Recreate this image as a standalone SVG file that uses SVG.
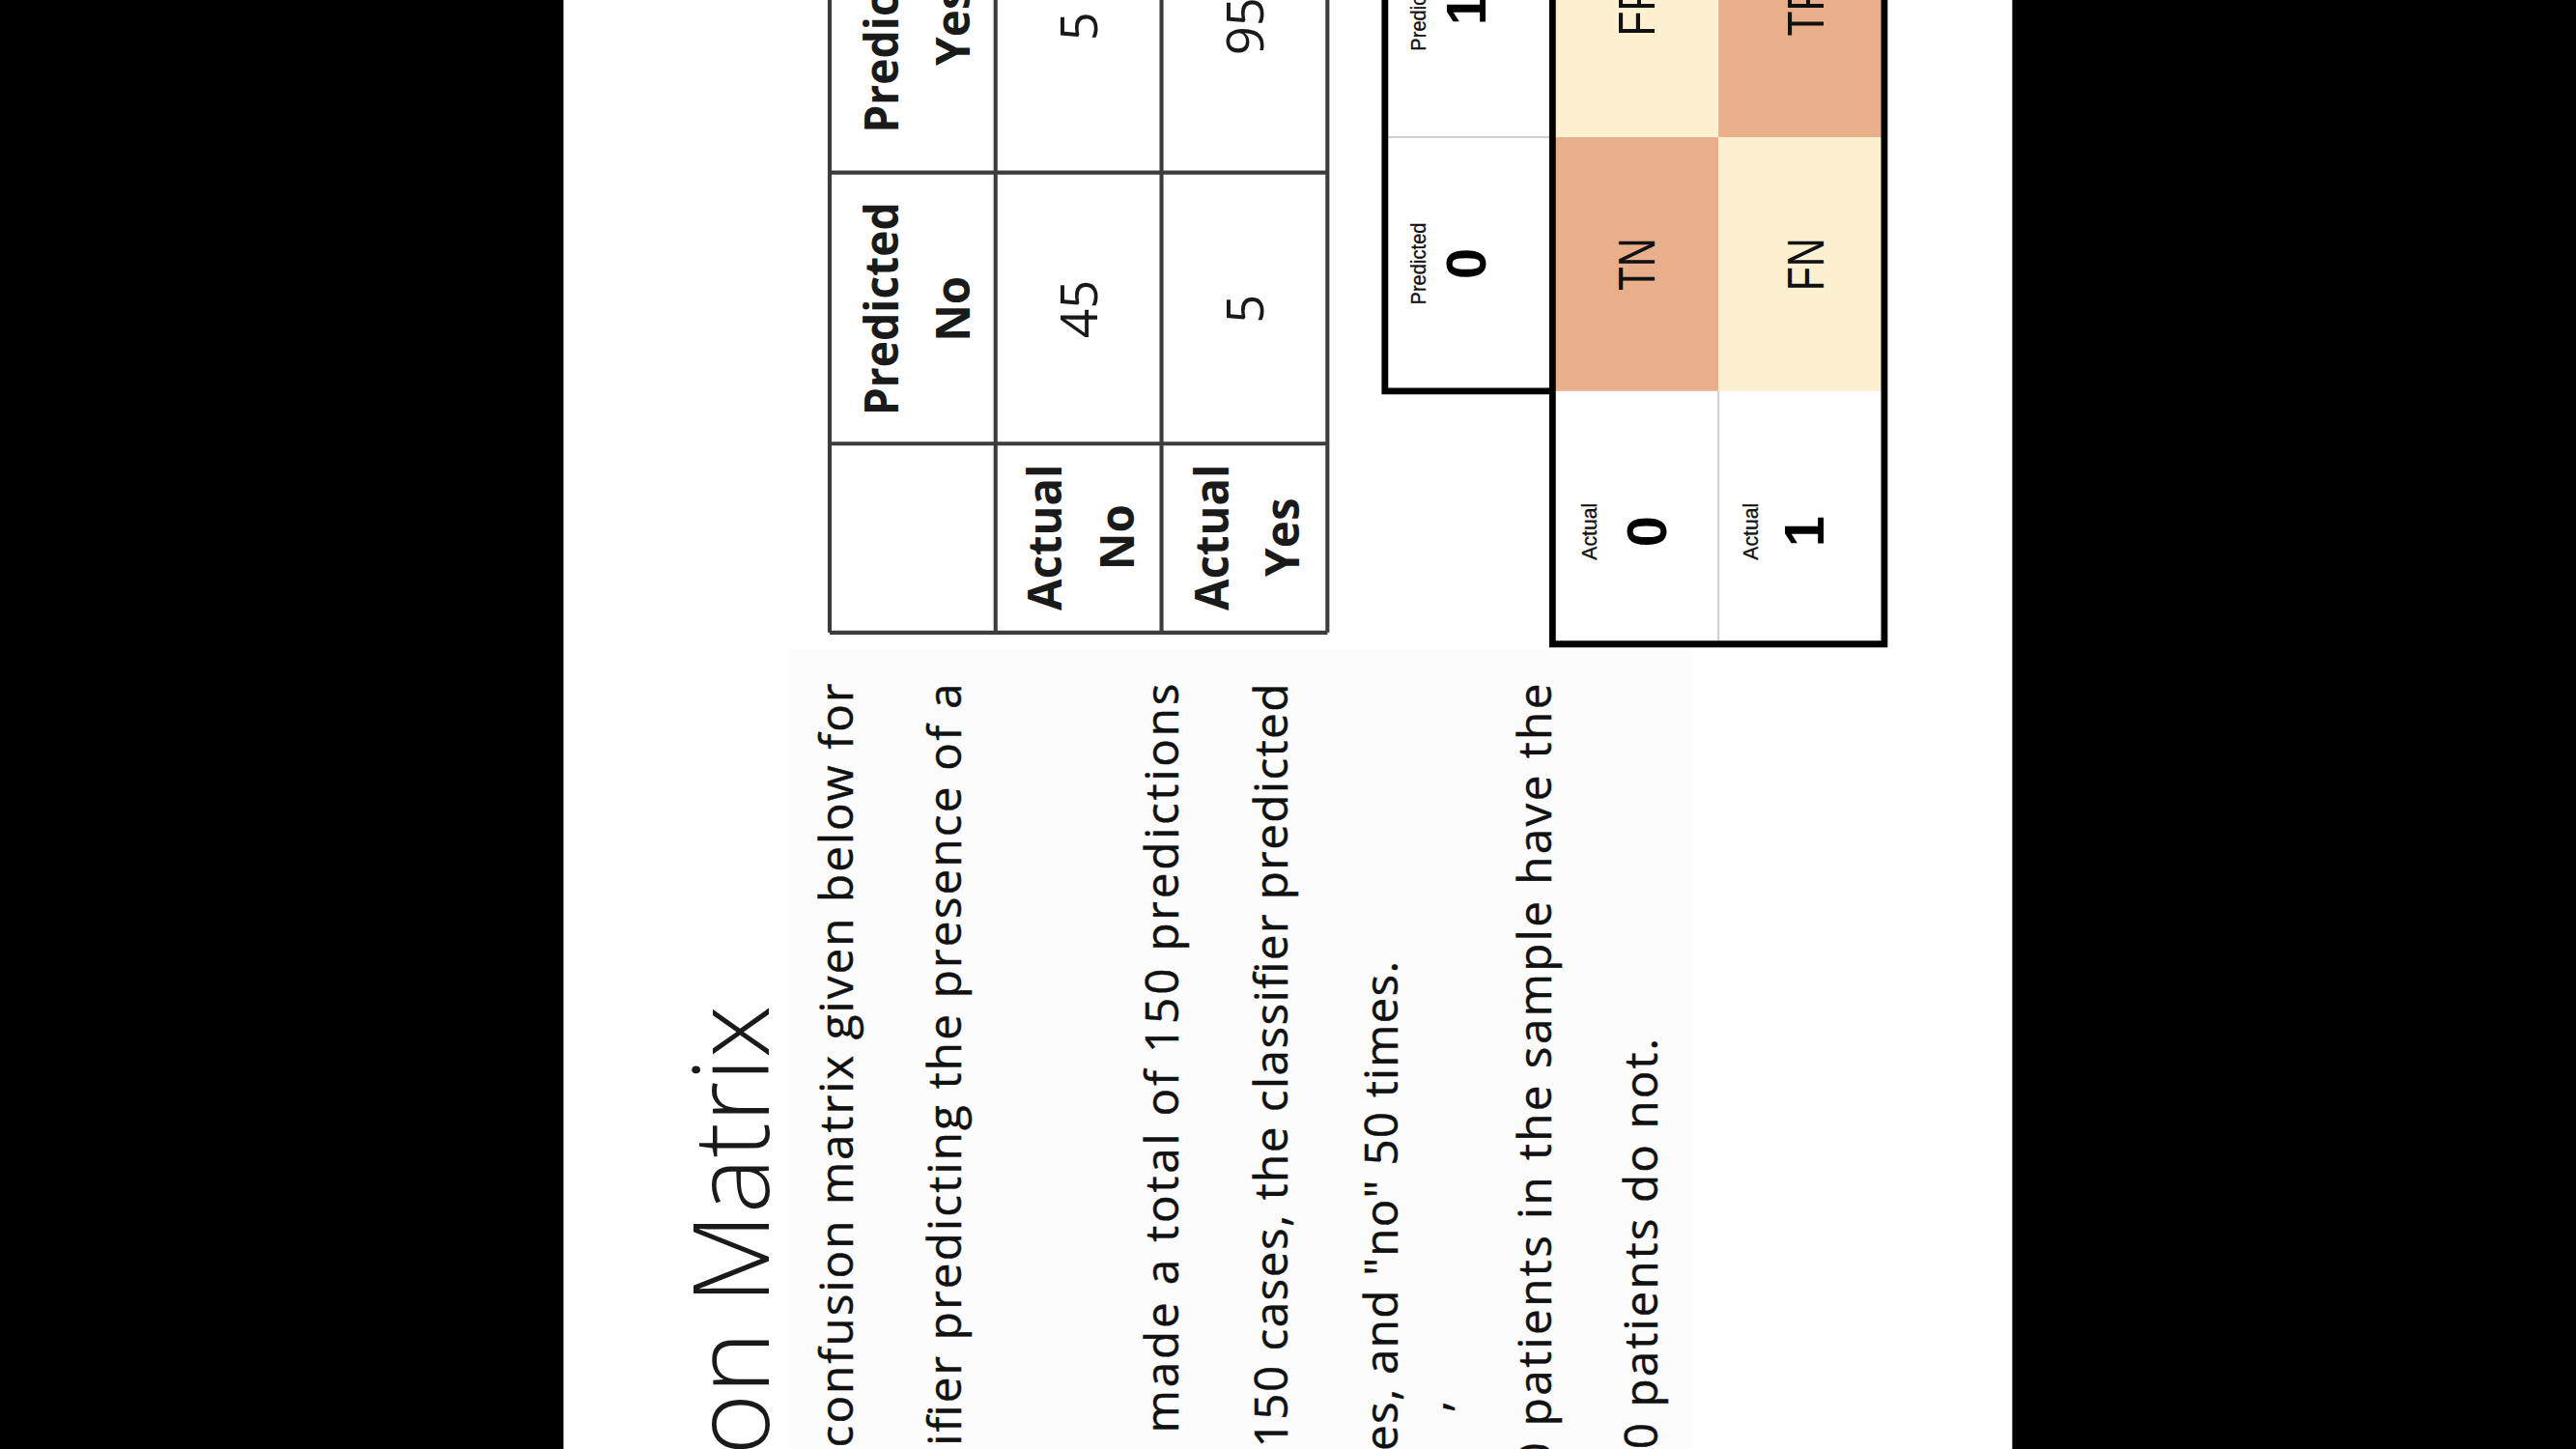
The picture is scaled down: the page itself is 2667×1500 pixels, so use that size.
<svg xmlns="http://www.w3.org/2000/svg" width="2667" height="1500" viewBox="0 0 2667 1500">
<style>
.title{font-family:"Open Sans","Liberation Sans",sans-serif;font-weight:300;font-size:64px;fill:#1a1a1a}
.body{font-family:"Open Sans","Liberation Sans",sans-serif;font-size:28px;fill:#111;text-anchor:end;stroke:#111;stroke-width:0.25}
.hb{font-family:"Open Sans","Liberation Sans",sans-serif;font-weight:700;font-size:28px;fill:#1a1a1a;text-anchor:middle}
.num{font-family:"Open Sans","Liberation Sans",sans-serif;font-size:31px;fill:#1a1a1a;text-anchor:middle}
.t1{stroke:#3c3c3c;stroke-width:2.4;fill:none}
.t2{stroke:#000;stroke-width:4;fill:none}
.thin{stroke:#cfcfcf;stroke-width:1.2}
.small{font-family:"Liberation Sans",Arial,sans-serif;font-size:12.5px;fill:#111;text-anchor:middle;stroke:#111;stroke-width:0.2}
.big{font-family:"Liberation Sans",Arial,sans-serif;font-weight:700;font-size:34px;fill:#000;text-anchor:middle}
.cell{font-family:"Liberation Sans",Arial,sans-serif;font-size:32px;fill:#111;text-anchor:middle}
</style>
<g transform="scale(1.70089)">
  <rect x="0" y="0" width="1568" height="882" fill="#000"/>
  <rect x="343" y="0" width="882" height="882" fill="#fff"/>
  <rect x="480" y="395" width="550" height="487" fill="#fcfcfc"/>

  <g id="title">
    <text class="title" text-anchor="end" transform="translate(468,612) rotate(-90)">on Matrix</text>
  </g>

  <g id="body-text">
    <text class="body" textLength="465" transform="translate(519,416) rotate(-90)">confusion matrix given below for</text>
    <text class="body" textLength="464" transform="translate(585,416) rotate(-90)">ifier predicting the presence of a</text>
    <text class="body" textLength="456" transform="translate(717,416) rotate(-90)">made a total of 150 predictions</text>
    <text class="body" textLength="465" transform="translate(784,416) rotate(-90)">150 cases, the classifier predicted</text>
    <text class="body" textLength="298" transform="translate(851,585) rotate(-90)">es, and "no" 50 times.</text>
    <text class="body" style="text-anchor:middle" transform="translate(882,856) rotate(-90)">,</text>
    <text class="body" textLength="478" transform="translate(944,416) rotate(-90)">0 patients in the sample have the</text>
    <text class="body" textLength="250" transform="translate(1009,632) rotate(-90)">0 patients do not.</text>
  </g>

  <g id="table-yes-no">
    <g id="table1-grid">
      <path class="t1" d="M505,-10 V385 M606,-10 V385 M707,-10 V385 M808,-10 V385 M505,385 H808 M505,270 H808 M505,105 H808"/>
    </g>
    <g id="t1-pred-no">
      <text class="hb" textLength="130" lengthAdjust="spacingAndGlyphs" transform="translate(547,188) rotate(-90)">Predicted</text>
      <text class="hb" transform="translate(590,188) rotate(-90)">No</text>
    </g>
    <g id="t1-pred-yes">
      <text class="hb" textLength="130" lengthAdjust="spacingAndGlyphs" transform="translate(547,16) rotate(-90)">Predicted</text>
      <text class="hb" transform="translate(590,16) rotate(-90)">Yes</text>
    </g>
    <g id="t1-act-no">
      <text class="hb" textLength="89" lengthAdjust="spacingAndGlyphs" transform="translate(646,327) rotate(-90)">Actual</text>
      <text class="hb" transform="translate(690,327) rotate(-90)">No</text>
    </g>
    <g id="t1-act-yes">
      <text class="hb" textLength="89" lengthAdjust="spacingAndGlyphs" transform="translate(748,327) rotate(-90)">Actual</text>
      <text class="hb" transform="translate(791,327) rotate(-90)">Yes</text>
    </g>
    <g id="t1-values">
      <text class="num" transform="translate(668,188) rotate(-90)">45</text>
      <text class="num" transform="translate(668,16) rotate(-90)">5</text>
      <text class="num" transform="translate(769,188) rotate(-90)">5</text>
      <text class="num" transform="translate(769,16) rotate(-90)">95</text>
    </g>
  </g>

  <g id="table-tn-fp">
    <g id="t2-cells">
      <rect x="945" y="83.5" width="101" height="154.5" fill="#E9AF8A"/>
      <rect x="945" y="-10" width="101" height="93.5" fill="#FCF0D0"/>
      <rect x="1046" y="83.5" width="101" height="154.5" fill="#FCF0D0"/>
      <rect x="1046" y="-10" width="101" height="93.5" fill="#E9AF8A"/>
    </g>
    <g id="t2-grid">
      <path class="thin" d="M843,83.5 H945 M1046,238 V392"/>
      <path class="t2" d="M843,-10 V238 H945 M945,-10 V392 H1147 V-10"/>
    </g>
    <g id="t2-pred0">
      <text class="small" textLength="50" lengthAdjust="spacingAndGlyphs" transform="translate(868,160.5) rotate(-90)">Predicted</text>
      <text class="big" transform="translate(904,160.5) rotate(-90)">0</text>
    </g>
    <g id="t2-pred1">
      <text class="small" textLength="50" lengthAdjust="spacingAndGlyphs" transform="translate(868,6) rotate(-90)">Predicted</text>
      <text class="big" transform="translate(904,6) rotate(-90)">1</text>
    </g>
    <g id="t2-act0">
      <text class="small" transform="translate(972,323.5) rotate(-90)">Actual</text>
      <text class="big" transform="translate(1014,323.5) rotate(-90)">0</text>
    </g>
    <g id="t2-act1">
      <text class="small" transform="translate(1070,323.5) rotate(-90)">Actual</text>
      <text class="big" transform="translate(1110,323.5) rotate(-90)">1</text>
    </g>
    <g id="t2-labels">
      <text class="cell" textLength="32" lengthAdjust="spacingAndGlyphs" transform="translate(1007,161) rotate(-90)">TN</text>
      <text class="cell" textLength="32" lengthAdjust="spacingAndGlyphs" transform="translate(1007,6) rotate(-90)">FP</text>
      <text class="cell" textLength="32" lengthAdjust="spacingAndGlyphs" transform="translate(1110,161) rotate(-90)">FN</text>
      <text class="cell" textLength="32" lengthAdjust="spacingAndGlyphs" transform="translate(1110,6) rotate(-90)">TP</text>
    </g>
  </g>

  <rect x="1225" y="0" width="343" height="882" fill="#000"/>
</g>
</svg>
